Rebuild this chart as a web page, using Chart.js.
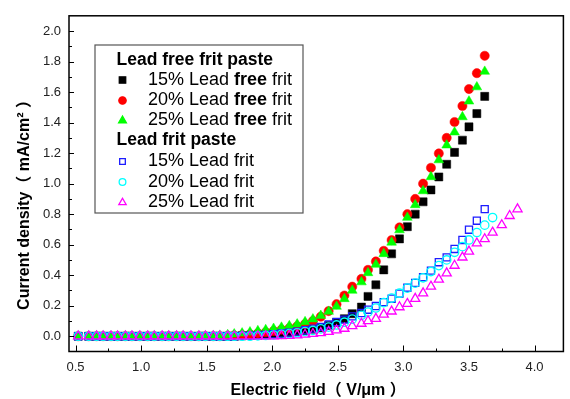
<!DOCTYPE html>
<html>
<head>
<meta charset="utf-8">
<script src="https://cdn.jsdelivr.net/npm/chart.js@4.4.0/dist/chart.umd.min.js"></script>
<style>
  body { margin: 0; background: #fff; }
  canvas { display: block; }
</style>
</head>
<body>
<canvas id="myChart" width="570" height="399"></canvas>
<script>
// electric field (V/um), shared by every series
const field = [0.52, 0.60, 0.66, 0.71, 0.77, 0.82, 0.88, 0.93, 0.99, 1.05,
  1.10, 1.16, 1.21, 1.27, 1.32, 1.38, 1.44, 1.49, 1.55, 1.60,
  1.66, 1.71, 1.77, 1.83, 1.89, 1.95, 2.01, 2.07, 2.13, 2.19,
  2.25, 2.31, 2.37, 2.43, 2.49, 2.55, 2.61, 2.68, 2.73, 2.79,
  2.85, 2.91, 2.97, 3.03, 3.09, 3.15, 3.21, 3.27, 3.33, 3.39,
  3.45, 3.50, 3.56, 3.62, 3.68, 3.75, 3.81, 3.87];

// current density (mA/cm2)
const free15 = [0, 0, 0, 0, 0, 0, 0, 0, 0, 0, 0, 0, 0, 0, 0, 0, 0, 0, 0, 0, 0, 0,
  0.003, 0.005, 0.008, 0.011, 0.015, 0.020, 0.025, 0.031, 0.038, 0.046, 0.056, 0.070,
  0.090, 0.115, 0.148, 0.191, 0.261, 0.337, 0.435, 0.540, 0.638, 0.718, 0.800, 0.881,
  0.959, 1.044, 1.127, 1.205, 1.285, 1.372, 1.459, 1.572];
const free20 = [0, 0, 0, 0, 0, 0, 0, 0, 0, 0, 0, 0, 0, 0, 0, 0, 0, 0, 0, 0,
  0.002, 0.005, 0.008, 0.013, 0.019, 0.026, 0.034, 0.043, 0.053, 0.065, 0.080, 0.100,
  0.128, 0.165, 0.210, 0.267, 0.325, 0.376, 0.435, 0.490, 0.560, 0.630, 0.713, 0.800,
  0.900, 1.000, 1.104, 1.198, 1.300, 1.404, 1.509, 1.620, 1.724, 1.838];
const free25 = [0, 0, 0, 0, 0, 0, 0, 0, 0, 0, 0, 0, 0, 0, 0, 0, 0, 0,
  0.002, 0.005, 0.009, 0.014, 0.020, 0.027, 0.035, 0.042, 0.050, 0.058, 0.068, 0.079,
  0.094, 0.112, 0.135, 0.162, 0.195, 0.245, 0.300, 0.355, 0.415, 0.470, 0.540, 0.615,
  0.696, 0.778, 0.861, 0.952, 1.044, 1.155, 1.252, 1.337, 1.437, 1.540, 1.633, 1.735];
const lead15 = [0, 0, 0, 0, 0, 0, 0, 0, 0, 0, 0, 0, 0, 0, 0, 0, 0, 0, 0, 0, 0, 0,
  0.002, 0.004, 0.006, 0.009, 0.013, 0.018, 0.024, 0.030, 0.039, 0.050, 0.061, 0.078,
  0.093, 0.109, 0.130, 0.152, 0.174, 0.198, 0.224, 0.246, 0.279, 0.318, 0.350, 0.387,
  0.430, 0.485, 0.517, 0.572, 0.631, 0.698, 0.757, 0.833];
const lead20 = [0, 0, 0, 0, 0, 0, 0, 0, 0, 0, 0, 0, 0, 0, 0, 0, 0, 0, 0, 0, 0, 0, 0, 0,
  0.003, 0.005, 0.008, 0.012, 0.017, 0.023, 0.030, 0.038, 0.048, 0.060, 0.074, 0.092,
  0.112, 0.137, 0.159, 0.185, 0.220, 0.250, 0.282, 0.315, 0.348, 0.383, 0.424, 0.463,
  0.500, 0.550, 0.587, 0.631, 0.680, 0.728, 0.778];
const lead25 = [0, 0, 0, 0, 0, 0, 0, 0, 0, 0, 0, 0, 0, 0, 0, 0, 0, 0, 0, 0, 0, 0, 0, 0, 0, 0, 0,
  0.002, 0.004, 0.007, 0.011, 0.016, 0.022, 0.030, 0.040, 0.050, 0.067, 0.083, 0.100,
  0.115, 0.143, 0.163, 0.191, 0.213, 0.246, 0.282, 0.326, 0.372, 0.413, 0.463, 0.517,
  0.556, 0.609, 0.637, 0.680, 0.729, 0.789, 0.833];

const xTicks = [0.5, 1.0, 1.5, 2.0, 2.5, 3.0, 3.5, 4.0];
const yTicks = [0.0, 0.2, 0.4, 0.6, 0.8, 1.0, 1.2, 1.4, 1.6, 1.8, 2.0];

const FONT = "'Liberation Sans', Arial, 'Noto Sans CJK SC', sans-serif";

function pts(ys) {
  return ys.map((v, i) => ({ x: field[i], y: v }));
}

// series styles, also used by the hand drawn legend
const series = [
  { label: '15% Lead ', bold: 'free', rest: ' frit', data: free15, style: 'rect', r: 5.7, fill: '#000000', line: '#000000' },
  { label: '20% Lead ', bold: 'free', rest: ' frit', data: free20, style: 'circle', r: 4.6, fill: '#ff0000', line: '#ff0000' },
  { label: '25% Lead ', bold: 'free', rest: ' frit', data: free25, style: 'triangle', r: 5.6, fill: '#00ff00', line: '#00ff00' },
  { label: '15% Lead frit', data: lead15, style: 'rect', r: 5, fill: 'rgba(0,0,0,0)', line: '#1c1cff' },
  { label: '20% Lead frit', data: lead20, style: 'circle', r: 4.2, fill: 'rgba(0,0,0,0)', line: '#00ffff' },
  { label: '25% Lead frit', data: lead25, style: 'triangle', r: 5.3, fill: 'rgba(0,0,0,0)', line: '#ff00ff' }
];

function marker(ctx, s, x, y, r) {
  ctx.beginPath();
  if (s.style === 'rect') {
    const h = r * Math.SQRT1_2;
    ctx.rect(x - h, y - h, 2 * h, 2 * h);
  } else if (s.style === 'circle') {
    ctx.arc(x, y, r, 0, Math.PI * 2);
  } else {
    ctx.moveTo(x, y - r);
    ctx.lineTo(x + r * 0.866, y + r * 0.5);
    ctx.lineTo(x - r * 0.866, y + r * 0.5);
    ctx.closePath();
  }
  ctx.fillStyle = s.fill;
  ctx.fill();
  ctx.strokeStyle = s.line;
  ctx.lineWidth = 1.3;
  ctx.stroke();
}

const framePlugin = {
  id: 'framePlugin',
  afterDraw(chart) {
    const { ctx, chartArea: a, scales: { x, y } } = chart;
    ctx.save();
    // box
    ctx.strokeStyle = '#000';
    ctx.lineWidth = 1.5;
    ctx.strokeRect(a.left, a.top, a.right - a.left, a.bottom - a.top);
    // inward ticks
    ctx.lineWidth = 1;
    ctx.beginPath();
    for (const v of xTicks) {
      const px = Math.round(x.getPixelForValue(v)) + 0.5;
      ctx.moveTo(px, a.bottom); ctx.lineTo(px, a.bottom - 6);
      const m = v + 0.25;
      if (m < x.max) {
        const pm = Math.round(x.getPixelForValue(m)) + 0.5;
        ctx.moveTo(pm, a.bottom); ctx.lineTo(pm, a.bottom - 3);
      }
    }
    for (const v of yTicks) {
      const py = Math.round(y.getPixelForValue(v)) + 0.5;
      ctx.moveTo(a.left, py); ctx.lineTo(a.left + 5, py);
      const m = v + 0.1;
      if (m < y.max) {
        const pm = Math.round(y.getPixelForValue(m)) + 0.5;
        ctx.moveTo(a.left, pm); ctx.lineTo(a.left + 3, pm);
      }
    }
    ctx.stroke();

    // axis titles
    ctx.fillStyle = '#000';
    ctx.font = 'bold 16px ' + FONT;
    ctx.textAlign = 'center';
    ctx.textBaseline = 'middle';
    ctx.fillText('Electric field\uff08 V/\u03bcm \uff09', (a.left + a.right) / 2 + 2, 391);
    ctx.save();
    ctx.translate(25, 201);
    ctx.rotate(-Math.PI / 2);
    ctx.fillText('Current density\uff08 mA/cm\u00b2 \uff09', 0, 0);
    ctx.restore();

    // legend
    ctx.fillStyle = '#fff';
    ctx.fillRect(95, 45, 208, 168);
    ctx.strokeStyle = '#555';
    ctx.lineWidth = 1.2;
    ctx.strokeRect(95, 45, 208, 168);
    ctx.textAlign = 'left';
    const rowsY = [80, 100.5, 120.5, 161.5, 182, 202.5];
    ctx.fillStyle = '#000';
    ctx.font = 'bold 17.5px ' + FONT;
    ctx.fillText('Lead free frit paste', 116.5, 60);
    ctx.fillText('Lead frit paste', 116.5, 140.5);
    series.forEach((s, i) => {
      marker(ctx, s, 122.5, rowsY[i], s.r * 0.8);
      ctx.fillStyle = '#000';
      let tx = 148;
      ctx.font = '18px ' + FONT;
      ctx.fillText(s.label, tx, rowsY[i]);
      if (s.bold) {
        tx += ctx.measureText(s.label).width;
        ctx.font = 'bold 18px ' + FONT;
        ctx.fillText(s.bold, tx, rowsY[i]);
        tx += ctx.measureText(s.bold).width;
        ctx.font = '18px ' + FONT;
        ctx.fillText(s.rest, tx, rowsY[i]);
      }
    });
    ctx.restore();
  }
};

const CHART = document.getElementById('myChart');
const myChart = new Chart(CHART, {
  type: 'scatter',
  data: {
    datasets: series.map((s, i) => ({
      label: s.label,
      data: pts(s.data),
      showLine: false,
      pointStyle: s.style,
      pointRadius: s.r,
      pointBackgroundColor: s.fill,
      pointBorderColor: s.line,
      pointBorderWidth: i < 3 ? 0.5 : 1.3,
      order: 6 - i
    }))
  },
  options: {
    responsive: false,
    animation: false,
    layout: { padding: { top: 14, right: 2, left: 0, bottom: 0 } },
    plugins: { legend: { display: false }, tooltip: { enabled: false } },
    scales: {
      x: {
        type: 'linear',
        min: 0.45,
        max: 4.22,
        grid: { display: false, drawTicks: false, tickLength: 0 },
        border: { display: false },
        afterBuildTicks: (scale) => { scale.ticks = xTicks.map(v => ({ value: v })); },
        afterFit: (scale) => { scale.height = 47.5; },
        ticks: {
          padding: 8,
          color: '#222',
          font: { family: FONT, size: 13 },
          maxRotation: 0,
          callback: (v) => v.toFixed(1)
        }
      },
      y: {
        type: 'linear',
        min: -0.1,
        max: 2.1,
        grid: { display: false, drawTicks: false, tickLength: 0 },
        border: { display: false },
        afterBuildTicks: (scale) => { scale.ticks = yTicks.map(v => ({ value: v })); },
        afterFit: (scale) => { scale.width = 69; },
        ticks: {
          padding: 8,
          color: '#222',
          font: { family: FONT, size: 13 },
          callback: (v) => v.toFixed(1)
        }
      }
    }
  },
  plugins: [framePlugin]
});
</script>
</body>
</html>
